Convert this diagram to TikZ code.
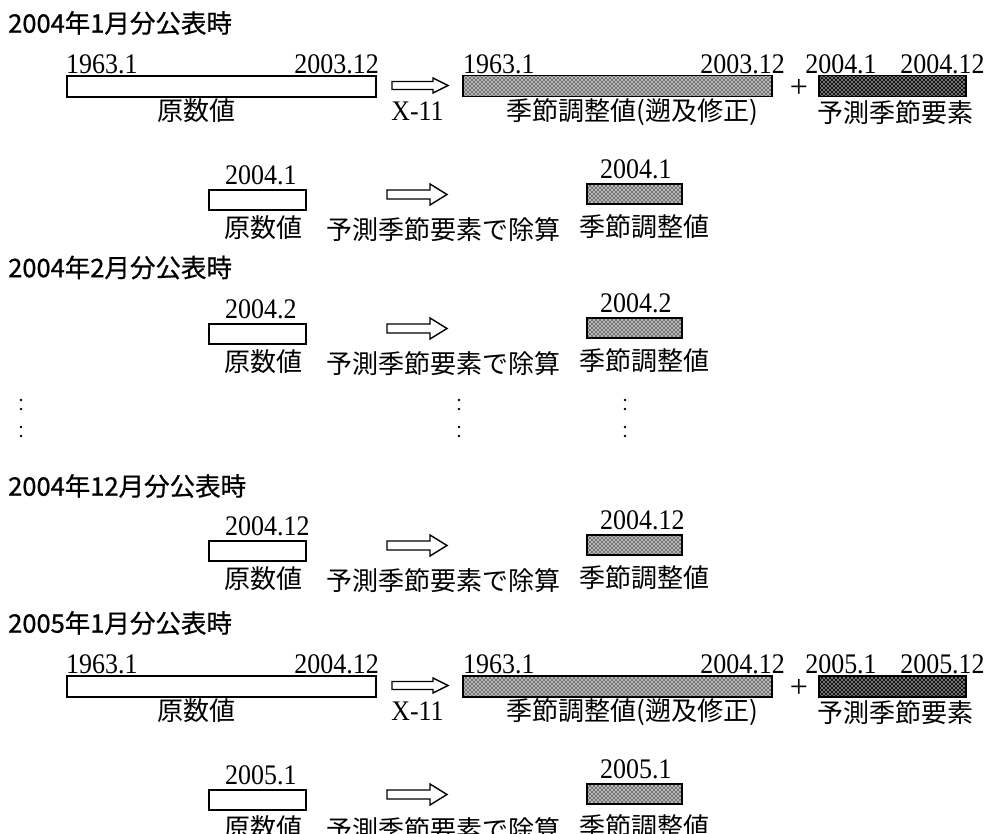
\documentclass[tikz,border=0pt]{standalone}
\usepackage{fontspec}
\setmainfont{Liberation Serif}
\newfontfamily\jpfont{Noto Sans CJK JP}
\newfontfamily\jpttlfont[FakeBold=0.7]{Noto Sans CJK JP}
\usetikzlibrary{patterns}

\pgfdeclarepatternformonly{lightdiamonds}{\pgfqpoint{-1pt}{-1pt}}{\pgfqpoint{5pt}{5pt}}{\pgfqpoint{4pt}{4pt}}%
{%
  \pgfpathcircle{\pgfqpoint{0pt}{0pt}}{0.95pt}%
  \pgfpathcircle{\pgfqpoint{2pt}{2pt}}{0.95pt}%
  \pgfusepath{fill}%
}
\pgfdeclarepatternformonly{darkdiamonds}{\pgfqpoint{-1pt}{-1pt}}{\pgfqpoint{5pt}{5pt}}{\pgfqpoint{4pt}{4pt}}%
{%
  \pgfpathcircle{\pgfqpoint{0pt}{0pt}}{0.8pt}%
  \pgfpathcircle{\pgfqpoint{2pt}{2pt}}{0.8pt}%
  \pgfusepath{fill}%
}

\newcommand\numf{\fontsize{26.5}{27}\selectfont}
\newcommand\jpf{\jpfont\fontsize{26}{26}\selectfont}
\newcommand\ttlf{\jpttlfont\fontsize{25.5}{26}\selectfont}
\newcommand\nm[1]{\scalebox{0.98}[1.07]{#1}}

\tikzset{
  rawbox/.style={draw, line width=1.6pt, fill=white, inner sep=0pt, anchor=north west},
  sabar/.style={draw, line width=1.5pt, inner sep=0pt, anchor=north west,
    preaction={fill=black!55}, pattern=lightdiamonds, pattern color=white},
  sabox/.style={sabar, line width=2.3pt},
  fcbar/.style={draw, line width=1.5pt, inner sep=0pt, anchor=north west,
    preaction={fill=black!92}, pattern=darkdiamonds, pattern color=white!85!black},
  num/.style={font=\numf, inner sep=0pt},
  jp/.style={font=\jpf, inner sep=0pt},
  ttl/.style={font=\ttlf, inner sep=0pt, anchor=west},
  plussign/.style={font=\fontsize{32}{32}\selectfont, inner sep=0pt},
  blockarrow/.style={draw, line width=1.4pt, fill=white, line join=miter},
  dotmark/.style={circle, fill=black, inner sep=0pt, minimum size=2.6pt},
}

% tail x, tip x, centre y, shaft half height, head half height, head start x
\newcommand\myArrow[6]{%
  \draw[blockarrow] (#1,{#3-#4}) -- (#6,{#3-#4}) -- (#6,{#3-#5}) -- (#2,#3)
    -- (#6,{#3+#5}) -- (#6,{#3+#4}) -- (#1,{#3+#4}) -- cycle;}

% id, y offset, end of data, forecast start, forecast end
\newcommand\myBigRow[5]{%
  \begin{scope}[shift={(0,#2)}]
    \node[rawbox, minimum width=309pt, minimum height=21pt] (raw#1) at (66,75) {};
    \node[num, anchor=west] (rawS#1) at (66,64.5) {\nm{1963.1}};
    \node[num, anchor=east] (rawE#1) at (379,64.5) {\nm{#3}};
    \node[jp] (rawT#1) at (196,111) {原数値};
    \myArrow{392}{448}{85.5}{4}{7.5}{433}
    \node[num] (x11#1) at (417.5,111) {\nm{X-11}};
    \node[sabar, minimum width=309pt, minimum height=21pt] (sa#1) at (462,75) {};
    \node[num, anchor=west] (saS#1) at (463,64.5) {\nm{1963.1}};
    \node[num, anchor=east] (saE#1) at (785,64.5) {\nm{#3}};
    \node[jp] (saT#1) at (632,112.5) {季節調整値(遡及修正)};
    \node[plussign] (plus#1) at (799,88) {+};
    \node[fcbar, minimum width=147pt, minimum height=21pt] (fc#1) at (818,75) {};
    \node[num] (fcS#1) at (841,64.5) {\nm{#4}};
    \node[num] (fcE#1) at (942.5,64.5) {\nm{#5}};
    \node[jp] (fcT#1) at (895,112.5) {予測季節要素};
  \end{scope}}

% id, y offset, month label
\newcommand\mySmallRow[3]{%
  \begin{scope}[shift={(0,#2)}]
    \node[num, anchor=west] (oL#1) at (225,175.5) {\nm{#3}};
    \node[rawbox, minimum width=97pt, minimum height=20pt] (o#1) at (208,189) {};
    \node[jp] (oT#1) at (263.5,228) {原数値};
    \myArrow{387}{447}{194.5}{4.5}{10.5}{430}
    \node[jp] (div#1) at (443.5,230) {予測季節要素で除算};
    \node[num, anchor=west] (sL#1) at (600,169.5) {\nm{#3}};
    \node[sabox, minimum width=95pt, minimum height=20pt] (s#1) at (586,183) {};
    \node[jp] (sT#1) at (644.5,227) {季節調整値};
  \end{scope}}

\begin{document}
\begin{tikzpicture}[x=1pt, y=-1pt]
  \useasboundingbox (0,0) rectangle (991,834);
  \fill[white] (0,0) rectangle (991,834);

  \node[ttl] (t1) at (8,23) {2004年1月分公表時};
  \myBigRow{a}{0}{2003.12}{2004.1}{2004.12}
  \mySmallRow{a}{0}{2004.1}

  \node[ttl] (t2) at (8,267.5) {2004年2月分公表時};
  \mySmallRow{b}{134}{2004.2}

  \foreach \x in {21,459,625}
    \foreach \y in {400,409,427,436}
      \node[dotmark] (d-\x-\y) at (\x,\y) {};

  \node[ttl] (t3) at (8,486) {2004年12月分公表時};
  \mySmallRow{c}{351}{2004.12}

  \node[ttl] (t4) at (8,623) {2005年1月分公表時};
  \myBigRow{d}{600}{2004.12}{2005.1}{2005.12}
  \mySmallRow{d}{600}{2005.1}
\end{tikzpicture}
\end{document}
